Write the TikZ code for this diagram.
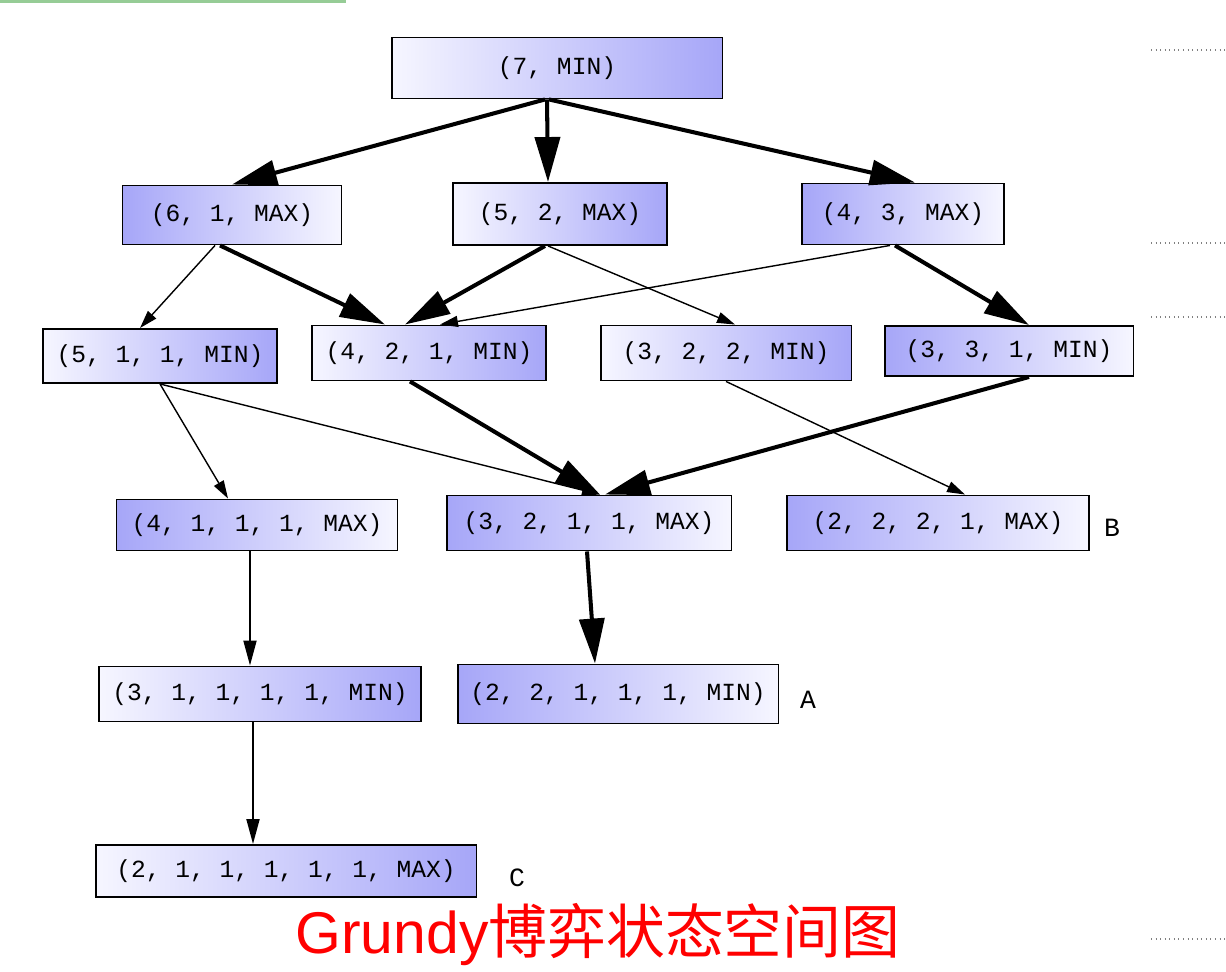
\documentclass[tikz,border=0pt]{standalone}
\usepackage{fontspec}
\setmonofont{Liberation Mono}
\newfontfamily\cjk{Noto Sans CJK SC}
\newfontfamily\arialish{Liberation Sans}
\usepackage{tikz}
\usetikzlibrary{arrows.meta,calc,positioning}

\definecolor{nodeblue}{RGB}{166,166,248}
\definecolor{nodepale}{RGB}{246,246,255}
\definecolor{slidegreen}{RGB}{150,204,150}

\tikzset{
  state/.style={draw,line width=1.1pt,inner sep=0pt,
    font=\ttfamily\fontsize{14}{16}\selectfont},
  lightleft/.style={state,left color=nodepale,right color=nodeblue},
  darkleft/.style={state,left color=nodeblue,right color=nodepale},
  bigarr/.style={line width=2.3pt,-{Triangle[length=0.9cm,width=0.5cm]}},
  midarr/.style={line width=1.1pt,-{Triangle[length=0.5cm,width=0.26cm]}},
  thinarr/.style={line width=0.8pt,-{Triangle[length=0.36cm,width=0.22cm]}},
  tag/.style={font=\ttfamily\fontsize{15}{17}\selectfont}
}

\begin{document}
\begin{tikzpicture}[x=0.02cm,y=-0.02cm]
  \useasboundingbox (0,0) rectangle (1226,972);
  % slide leftovers
  \draw[slidegreen,line width=1.2pt] (0,1.5) -- (346,1.5);
  \foreach \yy in {50,243,317,939}
    \draw[gray,dotted,line width=0.6pt] (1151,\yy) -- (1226,\yy);

  % states
  \node[lightleft,minimum width=6.62cm,minimum height=1.22cm] (n7) at (557,68) {(7, MIN)};
  \node[darkleft,minimum width=4.38cm,minimum height=1.18cm] (n61) at (232,215) {(6, 1, MAX)};
  \node[lightleft,minimum width=4.28cm,minimum height=1.24cm] (n52) at (560,214) {(5, 2, MAX)};
  \node[darkleft,minimum width=4.04cm,minimum height=1.22cm] (n43) at (903,214) {(4, 3, MAX)};
  \node[lightleft,minimum width=4.68cm,minimum height=1.08cm] (n511) at (160,356) {(5, 1, 1, MIN)};
  \node[lightleft,minimum width=4.68cm,minimum height=1.10cm] (n421) at (429,353) {(4, 2, 1, MIN)};
  \node[lightleft,minimum width=5.02cm,minimum height=1.10cm] (n322) at (726,353) {(3, 2, 2, MIN)};
  \node[darkleft,minimum width=4.98cm,minimum height=1.00cm] (n331) at (1009,351) {(3, 3, 1, MIN)};
  \node[darkleft,minimum width=5.62cm,minimum height=1.02cm] (n4111) at (257,525) {(4, 1, 1, 1, MAX)};
  \node[darkleft,minimum width=5.70cm,minimum height=1.10cm] (n3211) at (589,523) {(3, 2, 1, 1, MAX)};
  \node[darkleft,minimum width=6.04cm,minimum height=1.10cm] (n2221) at (938,523) {(2, 2, 2, 1, MAX)};
  \node[lightleft,minimum width=6.44cm,minimum height=1.10cm] (n31111) at (260,694) {(3, 1, 1, 1, 1, MIN)};
  \node[darkleft,minimum width=6.42cm,minimum height=1.18cm] (n22111) at (618,694) {(2, 2, 1, 1, 1, MIN)};
  \node[lightleft,minimum width=7.62cm,minimum height=1.04cm] (n211111) at (286,871) {(2, 1, 1, 1, 1, 1, MAX)};

  % marks
  \node[tag] (tagB) at (1112,528) {B};
  \node[tag] (tagA) at (808,700) {A};
  \node[tag] (tagC) at (517,878) {C};

  % moves
  \draw[bigarr] ($(n7.south)+(-12,0)$) -- (n61.north);
  \draw[bigarr] ($(n7.south)+(-10,0)$) -- ($(n52.north)+(-12,0)$);
  \draw[bigarr] ($(n7.south)+(-8,0)$) -- ($(n43.north)+(12,0)$);
  \draw[thinarr] ($(n61.south)+(-17,0)$) -- ($(n511.north)+(-20,0)$);
  \draw[bigarr] ($(n61.south)+(-12,0)$) -- ($(n421.north)+(-44,0)$);
  \draw[bigarr] ($(n52.south)+(-15,0)$) -- ($(n421.north)+(-24,0)$);
  \draw[thinarr] ($(n52.south)+(-12,0)$) -- ($(n322.north)+(9,0)$);
  \draw[thinarr] ($(n43.south)+(-13,0)$) -- ($(n421.north)+(11,0)$);
  \draw[bigarr] ($(n43.south)+(-8,0)$) -- ($(n331.north)+(20,0)$);
  \draw[thinarr] (n511.south) -- ($(n4111.north)+(-29,0)$);
  \draw[thinarr] (n511.south) -- ($(n3211.north)+(11,0)$);
  \draw[bigarr] ($(n421.south)+(-19,0)$) -- ($(n3211.north)+(11,0)$);
  \draw[bigarr] ($(n331.south)+(20,0)$) -- ($(n3211.north)+(16,0)$);
  \draw[thinarr] (n322.south) -- ($(n2221.north)+(27,0)$);
  \draw[midarr] ($(n4111.south)+(-7,0)$) -- ($(n31111.north)+(-10,0)$);
  \draw[bigarr] ($(n3211.south)+(-2,0)$) -- ($(n22111.north)+(-23,0)$);
  \draw[midarr] ($(n31111.south)+(-7,0)$) -- ($(n211111.north)+(-33,0)$);

  % caption
  \node[red,font=\fontsize{33.5}{37}\selectfont] (caption) at (598,935)
    {{\arialish Grundy}{\cjk 博弈状态空间图}};
\end{tikzpicture}
\end{document}
